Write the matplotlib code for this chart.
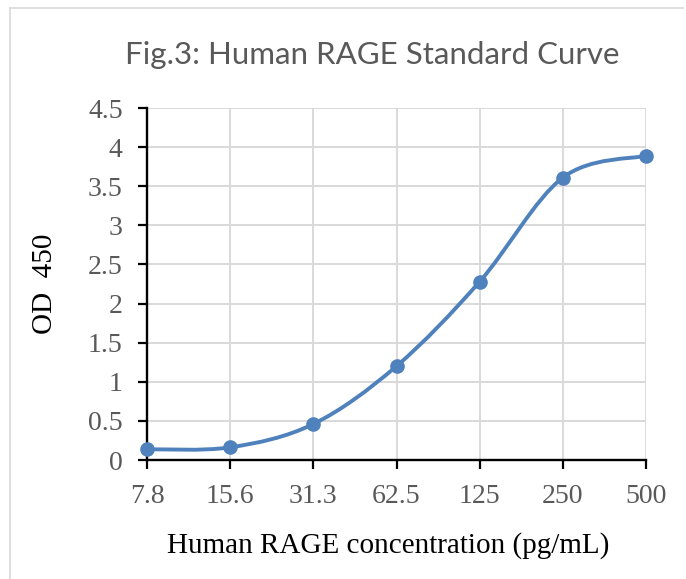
import matplotlib.pyplot as plt
import numpy as np
from matplotlib.lines import Line2D
from matplotlib.path import Path
from matplotlib.patches import PathPatch

# data
concentrations = ['7.8', '15.6', '31.3', '62.5', '125', '250', '500']
od450 = [0.137, 0.162, 0.46, 1.2, 2.28, 3.61, 3.89]
y_ticks = [0, 0.5, 1, 1.5, 2, 2.5, 3, 3.5, 4, 4.5]
y_ticklabels = ['0', '0.5', '1', '1.5', '2', '2.5', '3', '3.5', '4', '4.5']

line_color = '#4f81bd'
grid_color = '#d9d9d9'
text_gray = '#595959'
serif = 'Liberation Serif'


def smooth_path(xs, ys):
    """Excel-style smoothed line as cubic Bezier segments (Catmull-Rom control points)."""
    pts = np.column_stack([xs, ys]).astype(float)
    padded = np.vstack([pts[0], pts, pts[-1]])
    verts = [pts[0]]
    codes = [Path.MOVETO]
    for i in range(len(pts) - 1):
        p0, p1, p2, p3 = padded[i], padded[i + 1], padded[i + 2], padded[i + 3]
        c1 = p1 + (p2 - p0) / 6.0
        c2 = p2 - (p3 - p1) / 6.0
        verts += [c1, c2, p2]
        codes += [Path.CURVE4] * 3
    return Path(verts, codes)


W, H = 686, 579
fig = plt.figure(figsize=(W / 100, H / 100), dpi=100)
ax = fig.add_axes([147 / W, 119 / H, (646 - 147) / W, (460 - 108) / H])

x = np.arange(len(concentrations))
ax.add_patch(PathPatch(smooth_path(x, od450), fill=False, edgecolor=line_color,
                       linewidth=2.8, capstyle='round', zorder=3, clip_on=False))
ax.plot(x, od450, linestyle='none', marker='o', markersize=9.5,
        color=line_color, zorder=4, clip_on=False)

ax.set_xlim(0, len(concentrations) - 1)
ax.set_ylim(0, 4.5)
ax.set_xticks(x)
ax.set_xticklabels(concentrations)
ax.set_yticks(y_ticks)
ax.set_yticklabels(y_ticklabels)

ax.grid(True, color=grid_color, linewidth=1.4)
ax.set_axisbelow(True)
for side in ['top', 'right']:
    ax.spines[side].set_visible(False)
for side in ['left', 'bottom']:
    ax.spines[side].set_linewidth(1.7)
    ax.spines[side].set_color('black')
    ax.spines[side].set_zorder(2.5)

ax.tick_params(axis='both', direction='out', length=6.5, width=1.6, color='black',
               labelsize=20, labelcolor=text_gray, pad=11)
for lbl in ax.get_xticklabels() + ax.get_yticklabels():
    lbl.set_fontfamily(serif)

ax.set_ylabel('OD  450', fontfamily=serif, fontsize=21, color='black')
ax.set_xlabel('Human RAGE concentration (pg/mL)', fontfamily=serif, fontsize=21,
              color='black')
ax.yaxis.set_label_coords((45 - 147) / 499, 0.5)
ax.yaxis.label.set_va('center')
ax.xaxis.set_label_coords((388 - 147) / 499, (460 - 546) / 352)
ax.xaxis.label.set_va('center')

fig.text(0.5 * (123 + 622) / W, 1 - 55 / H, 'Fig.3: Human RAGE Standard Curve',
         ha='center', va='center', fontfamily='Lato', fontsize=22.5, color=text_gray)

# chart-area border (only top and left edges are visible in the crop)
fig.add_artist(Line2D([10 / W, 10 / W], [0, 1 - 8 / H], color=grid_color,
                      linewidth=1.2, transform=fig.transFigure))
fig.add_artist(Line2D([10 / W, 683 / W], [1 - 8 / H, 1 - 8 / H], color=grid_color,
                      linewidth=1.2, transform=fig.transFigure))

fig.savefig('out.png', dpi=100)
